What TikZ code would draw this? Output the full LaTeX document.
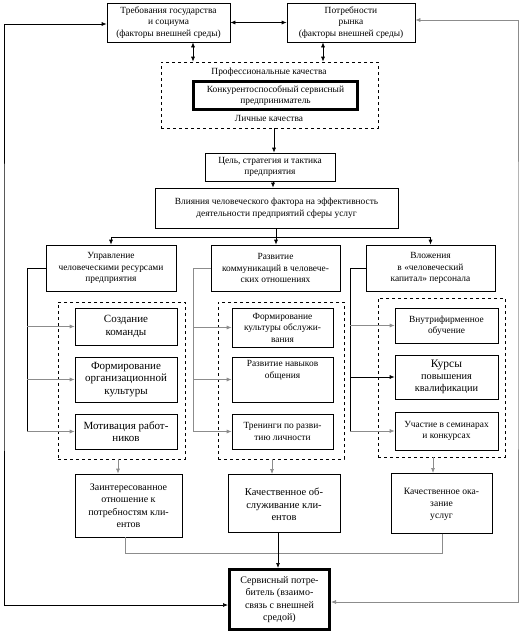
\documentclass[tikz,border=0pt]{standalone}
\usepackage{fontspec}
\setmainfont{Liberation Serif}
\usetikzlibrary{arrows.meta}
\begin{document}
\begin{tikzpicture}[x=1pt,y=-1pt,
  box/.style={draw, line width=0.7pt, inner sep=1pt, align=center, font=\fontsize{9.4}{11.5}\selectfont},
  bigbox/.style={box, font=\fontsize{11}{12.5}\selectfont},
  midbox/.style={box, font=\fontsize{10}{12.5}\selectfont},
  thickbox/.style={box, line width=3pt},
  dbox/.style={draw, dashed, line width=0.7pt, inner sep=0pt},
  lbl/.style={inner sep=0pt, font=\fontsize{9.4}{11}\selectfont},
  arr/.style={-{Latex[length=5pt,width=4pt]}, line width=0.7pt},
  darr/.style={{Latex[length=5pt,width=4pt]}-{Latex[length=5pt,width=4pt]}, line width=0.7pt},
  gl/.style={draw=black!45}
]
\useasboundingbox (0,0) rectangle (530,635);
% top boxes
\node[box, minimum width=123pt, minimum height=39pt] (T1) at (168.5,22.5) {Требования государства\\и социума\\(факторы внешней среды)};
\node[box, minimum width=128pt, minimum height=39pt] (T2) at (351,22.5) {Потребности\\рынка\\(факторы внешней среды)};
% dashed box with entrepreneur
\node[dbox, minimum width=217pt, minimum height=66pt] (D0) at (269.5,95) {};
\node[lbl] (prof) at (269,72) {Профессиональные качества};
\node[thickbox, minimum width=164pt, minimum height=28pt] (E) at (275.5,95.5) {Конкурентоспособный сервисный\\предприниматель};
\node[lbl] (lich) at (269,118) {Личные качества};
% goal and influence
\node[box, minimum width=130pt, minimum height=28pt] (G) at (270,167) {Цель, стратегия и тактика\\предприятия};
\node[box, minimum width=243pt, minimum height=40pt] (V) at (276.5,208) {Влияния человеческого фактора на эффективность\\деятельности предприятий сферы услуг};
% three branches
\node[box, minimum width=130pt, minimum height=46pt] (A) at (111,268) {Управление\\человеческими ресурсами\\предприятия};
\node[box, minimum width=129pt, minimum height=46pt] (B) at (275.5,268) {Развитие\\коммуникаций в человече-\\ских отношениях};
\node[box, minimum width=129pt, minimum height=46pt] (C) at (430.5,268) {Вложения\\в «человеческий\\капитал» персонала};
% dashed groups
\node[dbox, minimum width=127pt, minimum height=157pt] (DA) at (121.5,380.5) {};
\node[dbox, minimum width=126pt, minimum height=157pt] (DB) at (281,380.5) {};
\node[dbox, minimum width=127pt, minimum height=159pt] (DC) at (441.5,377.5) {};
% group A
\node[bigbox, minimum width=102pt, minimum height=37pt] (A1) at (126,326.5) {Создание\\команды};
\node[bigbox, minimum width=102pt, minimum height=45pt] (A2) at (126,379.5) {Формирование\\организационной\\культуры};
\node[bigbox, minimum width=102pt, minimum height=35pt] (A3) at (126,431.5) {Мотивация работ-\\ников};
% group B
\node[box, minimum width=101pt, minimum height=39pt] (B1) at (282.5,327.5) {Формирование\\культуры обслужи-\\вания};
\node[box, minimum width=101pt, minimum height=45pt] (B2) at (282.5,379.5) {Развитие навыков\\общения\\[9pt]};
\node[box, minimum width=101pt, minimum height=35pt] (B3) at (282.5,431.5) {Тренинги по разви-\\тию личности};
% group C
\node[box, minimum width=103pt, minimum height=35pt] (C1) at (446.5,325.5) {Внутрифирменное\\обучение};
\node[box, font=\fontsize{10.3}{12}\selectfont, minimum width=103pt, minimum height=44pt] (C2) at (446.5,377) {{\fontsize{11.5}{12}\selectfont Курсы}\\повышения\\квалификации};
\node[box, minimum width=103pt, minimum height=38pt] (C3) at (446.5,431) {Участие в семинарах\\и конкурсах};
% outcomes
\node[midbox, minimum width=107pt, minimum height=63pt] (OA) at (128.5,505.5) {Заинтересованное\\отношение к\\потребностям кли-\\ентов};
\node[box, font=\fontsize{10.5}{12.5}\selectfont, minimum width=112pt, minimum height=58pt, anchor=north] (OB) at (284,474) {\rule{0pt}{10pt}Качественное об-\\служивание кли-\\ентов};
\node[box, font=\fontsize{9.6}{12}\selectfont, minimum width=101pt, minimum height=60pt, anchor=north] (OC) at (441.5,473) {\rule{0pt}{9pt}Качественное ока-\\зание\\услуг};
% consumer
\node[thickbox, font=\fontsize{10}{12.5}\selectfont, minimum width=100pt, minimum height=60pt] (S) at (279.5,599.5) {Сервисный потре-\\битель (взаимо-\\связь с внешней\\средой)};
% coordinates
\coordinate (Lc) at (4,300);
\coordinate (Rc) at (518,300);
\coordinate (br) at (276,237);
\coordinate (ax) at (27,268);
\coordinate (bx) at (193,268);
\coordinate (cx) at (350,268);
\coordinate (jn) at (278,553);
% connectors top
\draw[darr] (T1) -- (T2);
\draw[darr] ([xshift=24.5pt]T1.south) -- ([xshift=24.5pt]T1.south |- D0.north);
\draw[darr] ([xshift=-28pt]T2.south) -- ([xshift=-28pt]T2.south |- D0.north);
\draw[darr] ([yshift=-5.5pt]S.west) -| (Lc) |- ([yshift=-1.5pt]T1.west);
\draw[darr, gl] ([yshift=-2.5pt]S.east) -| (Rc) |- ([yshift=2.5pt]T2.east);
\draw[arr] ([xshift=4.5pt]D0.south) -- ([xshift=4.5pt]D0.south |- G.north);
\draw[arr] ([xshift=3pt]G.south) -- ([xshift=3pt]G.south |- V.north);
\draw[line width=0.7pt] (V.south -| br) -- (br);
\draw[line width=0.7pt] (br -| A.north) -- (br -| C.north);
\draw[arr] (br -| A.north) -- (A.north);
\draw[arr] (br) -- (br |- B.north);
\draw[arr] (br -| C.north) -- (C.north);
% side lines A
\draw[line width=0.7pt] (A.west) -| (ax) -- (ax |- A3.west);
\draw[arr, gl] (ax |- A1.west) -- (A1.west);
\draw[arr, gl] (ax |- A2.west) -- (A2.west);
\draw[arr, gl] (ax |- A3.west) -- (A3.west);
% side lines B
\draw[line width=0.7pt, gl] (B.west) -| (bx) -- (bx |- B3.west);
\draw[arr, gl] (bx |- B1.west) -- (B1.west);
\draw[arr, gl] (bx |- B2.west) -- (B2.west);
\draw[arr, gl] (bx |- B3.west) -- (B3.west);
% side lines C
\draw[line width=0.7pt] (C.west) -| (cx) -- (cx |- C3.west);
\draw[arr, gl] (cx |- C1.west) -- (C1.west);
\draw[arr] (cx |- C2.west) -- (C2.west);
\draw[arr, gl] (cx |- C3.west) -- (C3.west);
% groups to outcomes
\draw[arr, gl] ([xshift=-3.5pt]DA.south) -- ([xshift=-3.5pt]DA.south |- OA.north);
\draw[arr, gl] ([xshift=-9pt]DB.south) -- ([xshift=-9pt]DB.south |- OB.north);
\draw[arr, gl] ([xshift=-8.5pt]DC.south) -- ([xshift=-8.5pt]DC.south |- OC.north);
% outcomes to consumer
\draw[line width=0.7pt, gl] ([xshift=-3.5pt]OA.south) |- (jn);
\draw[line width=0.7pt, gl] ([xshift=0.5pt]OC.south) |- (jn);
\draw[arr] ([xshift=-6pt]OB.south) -- ([xshift=-6pt]OB.south |- S.north);
\end{tikzpicture}
\end{document}
